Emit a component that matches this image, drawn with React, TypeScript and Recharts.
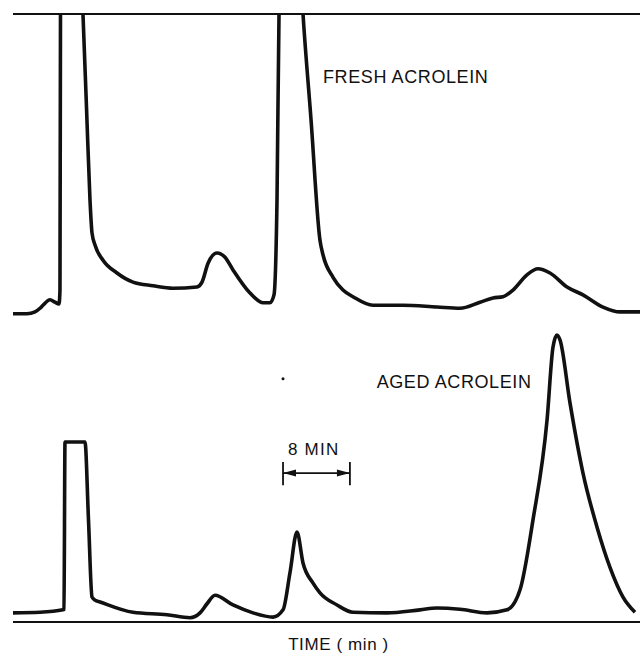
import React from "react";
import {
  LineChart,
  Line,
  XAxis,
  YAxis,
  ReferenceLine,
  ReferenceDot,
} from "recharts";

// time in minutes, detector response in arbitrary units (0-100 full scale)
const freshTime = [
  0, 1.67, 2.63, 3.23, 3.59, 4.43, 5.02, 5.5, 5.62, 5.68, 7.0, 8.37, 8.79,
  9.21, 9.45, 9.81, 10.77, 12.44, 14.35, 16.75, 19.14, 22.0, 22.61, 23.33,
  24.4, 25.36, 26.32, 28.35, 29.9, 30.74, 31.22, 31.58, 31.82, 33.2, 34.69,
  35.65, 36.72, 37.08, 38.28, 39.47, 40.67, 43.06, 46.65, 50.72, 53.47, 55.86,
  57.42, 58.61, 59.81, 61.48, 62.8, 64.23, 66.27, 68.18, 70.57, 72.61, 75.0,
];
const freshSignal = [
  50.7, 50.7, 51.0, 51.6, 52.1, 53.0, 52.6, 52.3, 54.6, 100, 140, 100, 84.7,
  69.4, 64.0, 62.0, 59.5, 57.4, 55.9, 55.3, 54.9, 55.1, 55.9, 59.0, 60.7, 60.0,
  57.9, 54.1, 52.5, 52.5, 53.8, 69.4, 100, 140, 100, 82.6, 62.8, 60.4, 56.7,
  54.6, 53.5, 52.1, 52.1, 51.8, 51.6, 52.6, 53.3, 53.5, 54.6, 57.1, 58.1, 57.4,
  55.1, 53.8, 51.8, 51.0, 51.0,
];

const agedTime = [
  0, 3.23, 5.98, 6.1, 6.22, 7.42, 8.61, 9.03, 9.45, 9.81, 10.41, 14.35, 18.42,
  21.17, 22.37, 23.21, 24.16, 26.32, 28.71, 31.1, 32.3, 33.13, 33.97, 34.69,
  35.89, 36.72, 38.76, 40.67, 44.74, 48.68, 50.72, 53.47, 56.7, 59.09, 60.65,
  62.2, 63.88, 64.59, 65.07, 65.43, 66.63, 68.18, 69.86, 71.41, 72.97, 74.4,
];
const agedSignal = [
  1.5, 1.6, 2.0, 2.1, 29.6, 29.6, 29.6, 16.8, 4.1, 3.6, 3.3, 1.6, 1.2, 0.7,
  1.5, 3.0, 4.4, 2.8, 1.5, 0.8, 2.0, 8.1, 14.8, 9.7, 6.4, 4.8, 2.8, 1.6, 1.5,
  2.0, 2.3, 2.1, 1.5, 2.0, 5.3, 16.8, 33.2, 45.2, 47.2, 46.4, 36.0, 24.5, 15.6,
  9.0, 4.1, 1.6,
];

// 8 min scale bar
const scaleStart = 32.3;
const scaleEnd = 40.3;
const scaleLevel = 24.5;

const freshData = freshTime.map((t, i) => ({ t, v: freshSignal[i] }));
const agedData = agedTime.map((t, i) => ({ t, v: agedSignal[i] }));

const font = "'Liberation Sans', Arial, sans-serif";
const ink = "#111";

const labelStyle = {
  position: "right" as const,
  offset: 0,
  fill: ink,
  fontSize: 18,
  fontFamily: font,
  letterSpacing: 0.6,
};

function ScaleArrow(props: any) {
  const { x1, y1, x2, y2 } = props;
  const len = 13;
  const half = 3.5;
  return (
    <g>
      <line x1={x1} y1={y1} x2={x2} y2={y2} stroke={ink} strokeWidth={1.8} />
      <polygon
        points={`${x1},${y1} ${x1 + len},${y1 - half} ${x1 + len},${y1 + half}`}
        fill={ink}
      />
      <polygon
        points={`${x2},${y2} ${x2 - len},${y2 - half} ${x2 - len},${y2 + half}`}
        fill={ink}
      />
    </g>
  );
}

export default function App() {
  return (
    <div style={{ position: "absolute", left: 0, top: 0, background: "#fff" }}>
      <LineChart
        width={642}
        height={653}
        margin={{ top: 14, right: 2, bottom: 0, left: 13 }}
      >
        <XAxis
          type="number"
          dataKey="t"
          domain={[0, 75]}
          height={31}
          tick={false}
          tickLine={false}
          axisLine={{ stroke: ink, strokeWidth: 2 }}
          label={{
            value: "TIME ( min )",
            position: "insideBottom",
            offset: 3,
            dx: 12,
            fill: ink,
            fontSize: 17,
            fontFamily: font,
            letterSpacing: 0.6,
          }}
        />
        <YAxis
          type="number"
          domain={[0, 100]}
          allowDataOverflow
          width={0}
          tick={false}
          tickLine={false}
          axisLine={{ stroke: ink, strokeWidth: 2 }}
        />
        <ReferenceLine y={100} stroke={ink} strokeWidth={2} />

        <Line
          data={freshData}
          dataKey="v"
          type="monotone"
          stroke={ink}
          strokeWidth={3.6}
          dot={false}
          isAnimationActive={false}
        />
        <Line
          data={agedData}
          dataKey="v"
          type="monotone"
          stroke={ink}
          strokeWidth={3.6}
          dot={false}
          isAnimationActive={false}
        />

        <ReferenceLine
          segment={[
            { x: scaleStart, y: scaleLevel },
            { x: scaleEnd, y: scaleLevel },
          ]}
          shape={ScaleArrow}
        />
        <ReferenceLine
          segment={[
            { x: scaleStart, y: scaleLevel - 2 },
            { x: scaleStart, y: scaleLevel + 1.8 },
          ]}
          stroke={ink}
          strokeWidth={1.8}
        />
        <ReferenceLine
          segment={[
            { x: scaleEnd, y: scaleLevel - 2 },
            { x: scaleEnd, y: scaleLevel + 1.8 },
          ]}
          stroke={ink}
          strokeWidth={1.8}
        />

        <ReferenceDot
          x={37.08}
          y={89.7}
          r={0}
          stroke="none"
          label={{ value: "FRESH ACROLEIN", ...labelStyle }}
        />
        <ReferenceDot
          x={43.5}
          y={39.5}
          r={0}
          stroke="none"
          label={{ value: "AGED ACROLEIN", ...labelStyle }}
        />
        <ReferenceDot
          x={32.9}
          y={28.5}
          r={0}
          stroke="none"
          label={{ value: "8 MIN", ...labelStyle, fontSize: 17, letterSpacing: 1.2 }}
        />
        <ReferenceDot x={32.3} y={40.0} r={1.5} fill={ink} stroke="none" />
      </LineChart>
    </div>
  );
}
